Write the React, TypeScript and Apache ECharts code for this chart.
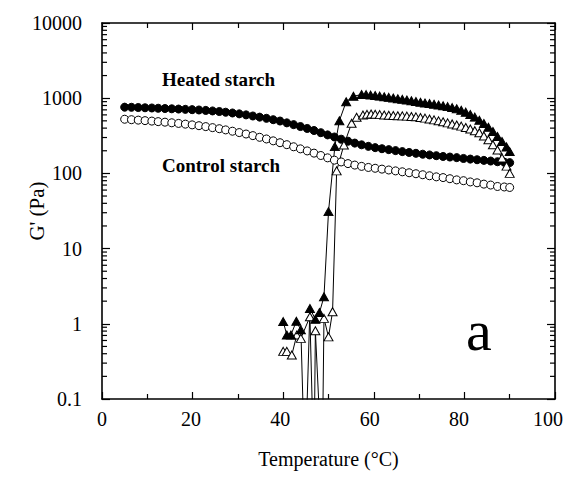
import React, { useEffect, useRef } from "react";
import * as echarts from "echarts";

// Sample temperatures (°C) for the circle series
const circleTemps = [
  5.0, 6.5, 8.0, 9.5, 11.0, 12.4, 13.9, 15.4, 16.9, 18.4, 19.9, 21.4, 22.9, 24.4, 25.9, 27.3,
  28.8, 30.3, 31.8, 33.3, 34.8, 36.3, 37.8, 39.3, 40.8, 42.3, 43.8, 45.3, 46.8, 48.3, 49.8, 51.3,
  52.8, 54.3, 55.8, 57.3, 58.8, 60.3, 61.8, 63.3, 64.8, 66.3, 67.8, 69.3, 70.8, 72.3, 73.8, 75.3,
  76.8, 78.3, 79.8, 81.3, 82.8, 84.3, 85.8, 87.3, 88.8, 90.0,
];

// G' (Pa), filled circles
const heatedCircleG = [
  760, 757, 752, 746, 741, 735, 729, 723, 717, 711, 704, 697, 688, 677, 665, 651,
  636, 619, 600, 580, 560, 540, 518, 497, 470, 445, 420, 396, 372, 348, 325, 305,
  285, 268, 253, 240, 229, 220, 213, 207, 201, 195, 190, 185, 180, 176, 172, 168,
  165, 162, 158, 155, 152, 149, 146, 143, 141, 139,
];

// G' (Pa), open circles
const controlCircleG = [
  525, 518, 511, 503, 496, 488, 480, 471, 462, 452, 442, 431, 419, 406, 393, 379,
  364, 349, 334, 318, 302, 287, 271, 256, 241, 226, 212, 199, 186, 173, 161, 150,
  142, 135, 129, 124, 120, 117, 114, 111, 108, 105, 102, 99, 96, 93, 90, 88,
  85, 82, 80, 77, 75, 72, 70, 67, 66, 65,
];

// Filled triangles: temperatures and G' (Pa); values under 0.1 leave the frame
const heatedTriTemps = [
  40.0, 40.8, 41.7, 42.9, 43.9, 44.8, 45.9, 47.1, 48.0, 49.0, 50.0, 51.4, 52.4, 53.9, 55.5, 57.3,
  58.3, 59.3, 60.3, 61.3, 62.3, 63.3, 64.3, 65.3, 66.3, 67.3, 68.3, 69.3, 70.3, 71.3, 72.3, 73.3,
  74.3, 75.3, 76.3, 77.3, 78.3, 79.3, 80.3, 81.3, 82.3, 83.3, 84.3, 85.3, 86.3, 87.3, 88.3, 89.3,
  90.0,
];
const heatedTriG = [
  1.07, 0.71, 0.71, 1.08, 0.83, 0.01, 1.6, 1.15, 1.41, 2.29, 31, 227, 502, 897, 1060, 1120,
  1115, 1100, 1085, 1065, 1045, 1025, 1005, 985, 965, 945, 925, 905, 885, 865, 848, 830,
  812, 793, 772, 750, 725, 692, 652, 607, 560, 510, 460, 410, 360, 310, 265, 225,
  195,
];

// Open triangles: temperatures and G' (Pa)
const controlTriTemps = [
  40.0, 40.8, 41.9, 43.0, 43.9, 45.9, 46.8, 47.1, 48.6, 49.0, 50.0, 50.9, 51.8, 53.4, 55.1, 56.2,
  57.6, 58.5, 59.4, 60.3, 61.3, 62.3, 63.3, 64.3, 65.3, 66.3, 67.3, 68.3, 69.3, 70.3, 71.3, 72.3,
  73.3, 74.3, 75.3, 76.3, 77.3, 78.3, 79.3, 80.3, 81.3, 82.3, 83.3, 84.3, 85.3, 86.3, 87.3, 88.3,
  89.3, 90.0,
];
const controlTriG = [
  0.43, 0.43, 0.385, 0.71, 0.64, 1.24, 0.01, 0.81, 0.01, 1.18, 0.67, 1.45, 108, 239, 464, 557,
  598, 610, 615, 612, 605, 598, 592, 588, 585, 582, 578, 572, 565, 555, 543, 530,
  515, 500, 485, 470, 455, 440, 425, 408, 390, 370, 348, 315, 280, 240, 205, 160,
  125, 100,
];

const xTickLabels = ["0", "20", "40", "60", "80", "100"];
const yTickLabels = ["0.1", "1", "10", "100", "1000", "10000"];
const yDecades = [0.1, 1, 10, 100, 1000];
const minorMultipliers = [2, 3, 4, 5, 6, 7, 8, 9];

const FONT = "Liberation Serif";
const Y_MIN = 0.1;

function toSeriesData(xs: number[], ys: number[]) {
  return xs.map((x, i) =>
    ys[i] < Y_MIN ? { value: [x, ys[i]], symbol: "none" } : { value: [x, ys[i]] }
  );
}

export default function App() {
  const ref = useRef<HTMLDivElement>(null);

  useEffect(() => {
    if (!ref.current) return;
    const chart = echarts.init(ref.current, undefined, { renderer: "svg" });

    const minorTickData: number[][] = [];
    yDecades.forEach((d) => minorMultipliers.forEach((m) => minorTickData.push([0, d * m])));

    // x tick labels sit slightly left of their ticks, more so toward the right end
    const xRich: Record<string, any> = {};
    xTickLabels.forEach((t, i) => {
      xRich["x" + i] = { fontFamily: FONT, fontSize: 20, color: "#000", padding: [0, Math.round(i * 2.8), 0, 0] };
    });

    const axisLineStyle = { color: "#000", width: 1.6 };
    const labelStyle = { color: "#000", fontFamily: FONT, fontSize: 20 };
    const xCommon = {
      type: "value" as const,
      min: 0,
      max: 100,
      interval: 20,
      axisLine: { show: true, onZero: false, lineStyle: axisLineStyle },
      axisTick: { show: true, inside: true, length: 7, lineStyle: { color: "#000", width: 1.2 } },
      minorTick: { show: true, splitNumber: 2, length: 5, lineStyle: { color: "#000", width: 1.2 } },
      splitLine: { show: false },
      minorSplitLine: { show: false },
    };
    const yCommon = {
      type: "log" as const,
      logBase: 10,
      min: 0.1,
      max: 10000,
      axisLine: { show: true, onZero: false, lineStyle: axisLineStyle },
      axisTick: { show: true, inside: true, length: 8, lineStyle: { color: "#000", width: 1.2 } },
      splitLine: { show: false },
    };

    const markerSeries = (
      name: string,
      data: any[],
      symbol: string,
      size: number | number[],
      filled: boolean
    ) => ({
      name,
      type: "line" as const,
      data,
      symbol,
      symbolSize: size,
      showAllSymbol: true,
      clip: true,
      lineStyle: { color: "#000", width: 1 },
      itemStyle: {
        color: filled ? "#000" : "#fff",
        borderColor: "#000",
        borderWidth: 1,
      },
      z: 3,
    });

    chart.setOption({
      animation: false,
      backgroundColor: "#fff",
      grid: { left: 102, right: 18, top: 23, bottom: 82, outerBoundsMode: "none" },
      xAxis: [
        {
          ...xCommon,
          position: "bottom",
          axisLabel: {
            ...labelStyle,
            margin: 10,
            formatter: (v: number) => {
              const i = Math.round(v / 20);
              return `{x${i}|${xTickLabels[i] ?? ""}}`;
            },
            rich: xRich,
          },
          name: "Temperature (°C)",
          nameLocation: "middle",
          nameGap: 50,
          nameMoveOverlap: false,
          nameTextStyle: labelStyle,
        },
        { ...xCommon, position: "top", axisLabel: { show: false } },
      ],
      yAxis: [
        {
          ...yCommon,
          position: "left",
          axisLabel: {
            ...labelStyle,
            margin: 20,
            formatter: (v: number) => yTickLabels[Math.round(Math.log10(v)) + 1] ?? "",
          },
          name: "G' (Pa)",
          nameLocation: "middle",
          nameGap: 55,
          nameMoveOverlap: false,
          nameTextStyle: { ...labelStyle, fontSize: 21 },
        },
        { ...yCommon, position: "right", axisLabel: { show: false } },
      ],
      series: [
        {
          name: "minor ticks",
          type: "custom",
          silent: true,
          clip: false,
          data: minorTickData,
          renderItem: (_p: any, api: any) => {
            const v = api.value(1);
            const l = api.coord([0, v]);
            const r = api.coord([100, v]);
            const style = { stroke: "#000", lineWidth: 1.2 };
            return {
              type: "group",
              children: [
                { type: "line", shape: { x1: l[0], y1: l[1], x2: l[0] + 5, y2: l[1] }, style },
                { type: "line", shape: { x1: r[0] - 5, y1: r[1], x2: r[0], y2: r[1] }, style },
              ],
            };
          },
        },
        markerSeries("Heated starch ●", toSeriesData(circleTemps, heatedCircleG), "circle", 8, true),
        markerSeries("Control starch ○", toSeriesData(circleTemps, controlCircleG), "circle", 8, false),
        markerSeries("Control starch △", toSeriesData(controlTriTemps, controlTriG), "triangle", [9, 8], false),
        markerSeries("Heated starch ▲", toSeriesData(heatedTriTemps, heatedTriG), "triangle", [9, 8], true),
      ],
      graphic: [
        {
          type: "text",
          left: 162,
          top: 70,
          style: { text: "Heated starch", fontFamily: FONT, fontWeight: "bold", fontSize: 19, fill: "#000" },
        },
        {
          type: "text",
          left: 162,
          top: 156,
          style: { text: "Control starch", fontFamily: FONT, fontWeight: "bold", fontSize: 19, fill: "#000" },
        },
        {
          type: "text",
          left: 466,
          top: 301,
          style: { text: "a", fontFamily: FONT, fontSize: 58, fill: "#000" },
        },
      ],
    });

    return () => chart.dispose();
  }, []);

  return (
    <div
      ref={ref}
      style={{ position: "fixed", left: 0, top: 0, width: 573, height: 481, background: "#fff" }}
    />
  );
}
